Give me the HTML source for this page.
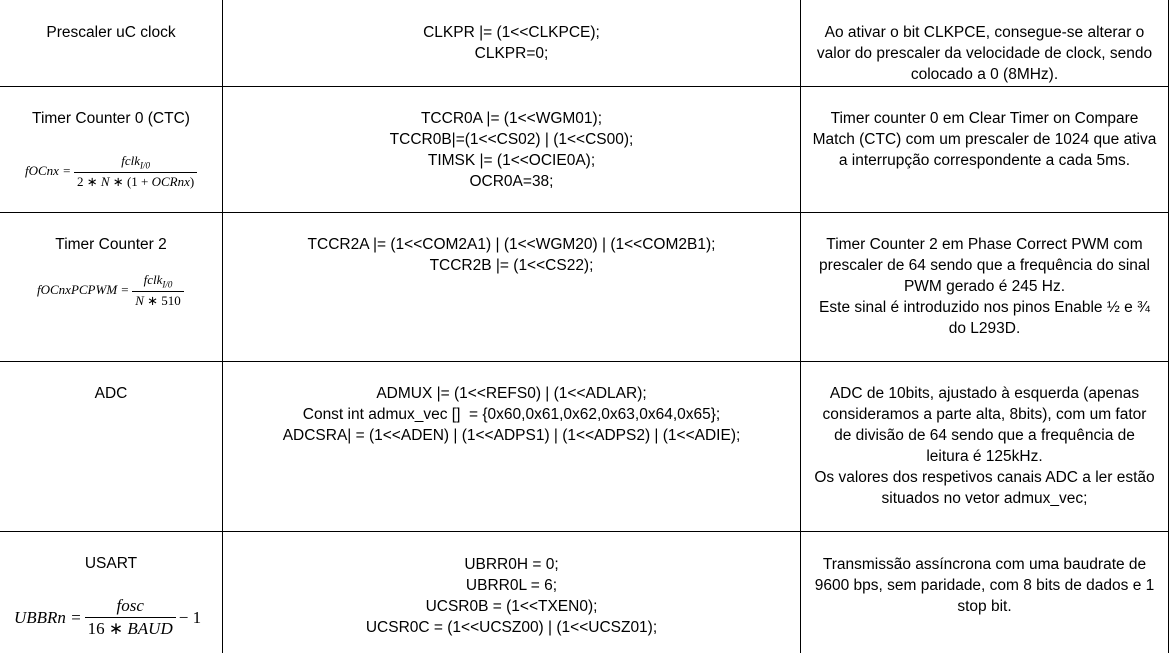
<!DOCTYPE html>
<html><head><meta charset="utf-8"><style>
body{margin:0;width:1169px;height:653px;background:#fff;position:relative;overflow:hidden;font-family:"Liberation Sans",sans-serif;font-size:15.5px;color:#000}
.h{position:absolute;left:0;width:1169px;height:1px;background:#000}
.v{position:absolute;top:0;height:653px;width:1px;background:#000}
.t{position:absolute;text-align:center;line-height:21px;white-space:nowrap}
.c1{left:0;width:222px}.c2{left:223px;width:577px}.c3{left:801px;width:367px}
.f{position:absolute;font-family:"Liberation Serif",serif;font-style:italic;white-space:nowrap;display:flex;align-items:center}
.fr{display:inline-flex;flex-direction:column;align-items:center;margin:0 3px}
.fr .n{padding:0 3px 1px}.fr .d{border-top:1px solid #000;padding:1px 3px 0}
</style></head><body>
<div class="h" style="top:86px"></div><div class="h" style="top:212px"></div><div class="h" style="top:361px"></div><div class="h" style="top:531px"></div>
<div class="v" style="left:222px"></div><div class="v" style="left:800px"></div><div class="v" style="left:1168px"></div>

<div class="t c1" style="top:22px">Prescaler uC clock</div>
<div class="t c2" style="top:22px">CLKPR |= (1&lt;&lt;CLKPCE);<br>CLKPR=0;</div>
<div class="t c3" style="top:22px">Ao ativar o bit CLKPCE, consegue-se alterar o<br>valor do prescaler da velocidade de clock, sendo<br>colocado a 0 (8MHz).</div>

<div class="t c1" style="top:108px">Timer Counter 0 (CTC)</div>
<div class="f" style="left:25px;top:153px;font-size:13px">fOCnx =<span class="fr"><span class="n">fclk<sub style="font-size:9px">I/0</sub></span><span class="d" style="font-style:normal">2 ∗ <i>N</i> ∗ (1 + <i>OCRnx</i>)</span></span></div>
<div class="t c2" style="top:108px">TCCR0A |= (1&lt;&lt;WGM01);<br>TCCR0B|=(1&lt;&lt;CS02) | (1&lt;&lt;CS00);<br>TIMSK |= (1&lt;&lt;OCIE0A);<br>OCR0A=38;</div>
<div class="t c3" style="top:108px">Timer counter 0 em Clear Timer on Compare<br>Match (CTC) com um prescaler de 1024 que ativa<br>a interrupção correspondente a cada 5ms.</div>

<div class="t c1" style="top:234px">Timer Counter 2</div>
<div class="f" style="left:37px;top:272px;font-size:13px">fOCnxPCPWM =<span class="fr"><span class="n">fclk<sub style="font-size:9px">I/0</sub></span><span class="d"><i>N</i> <span style="font-style:normal">∗ 510</span></span></span></div>
<div class="t c2" style="top:234px">TCCR2A |= (1&lt;&lt;COM2A1) | (1&lt;&lt;WGM20) | (1&lt;&lt;COM2B1);<br>TCCR2B |= (1&lt;&lt;CS22);</div>
<div class="t c3" style="top:234px">Timer Counter 2 em Phase Correct PWM com<br>prescaler de 64 sendo que a frequência do sinal<br>PWM gerado é 245 Hz.<br>Este sinal é introduzido nos pinos Enable ½ e ¾<br>do L293D.</div>

<div class="t c1" style="top:383px">ADC</div>
<div class="t c2" style="top:383px">ADMUX |= (1&lt;&lt;REFS0) | (1&lt;&lt;ADLAR);<br>Const int admux_vec []&nbsp; = {0x60,0x61,0x62,0x63,0x64,0x65};<br>ADCSRA| = (1&lt;&lt;ADEN) | (1&lt;&lt;ADPS1) | (1&lt;&lt;ADPS2) | (1&lt;&lt;ADIE);</div>
<div class="t c3" style="top:383px">ADC de 10bits, ajustado à esquerda (apenas<br>consideramos a parte alta, 8bits), com um fator<br>de divisão de 64 sendo que a frequência de<br>leitura é 125kHz.<br>Os valores dos respetivos canais ADC a ler estão<br>situados no vetor admux_vec;</div>

<div class="t c1" style="top:553px">USART</div>
<div class="f" style="left:14px;top:596px;font-size:17px">UBBRn =<span class="fr"><span class="n">fosc</span><span class="d"><span style="font-style:normal">16 ∗</span> BAUD</span></span><span style="font-style:normal">− 1</span></div>
<div class="t c2" style="top:554px">UBRR0H = 0;<br>UBRR0L = 6;<br>UCSR0B = (1&lt;&lt;TXEN0);<br>UCSR0C = (1&lt;&lt;UCSZ00) | (1&lt;&lt;UCSZ01);</div>
<div class="t c3" style="top:554px">Transmissão assíncrona com uma baudrate de<br>9600 bps, sem paridade, com 8 bits de dados e 1<br>stop bit.</div>
</body></html>
